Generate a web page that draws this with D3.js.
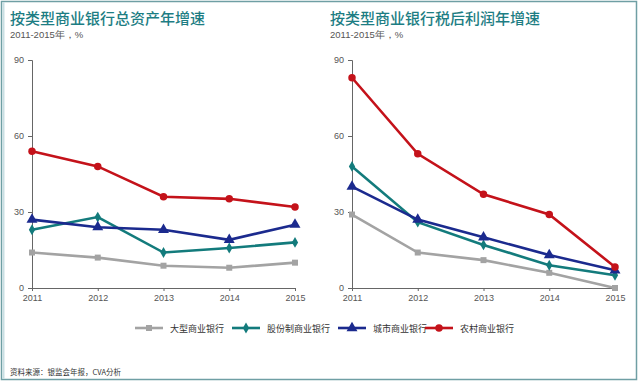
<!DOCTYPE html>
<html lang="zh">
<head>
<meta charset="UTF-8">
<title>按类型商业银行增速</title>
<script src="https://d3js.org/d3.v7.min.js"></script>
<style>
  body { margin: 0; background: #fff; }
  svg { display: block; }
</style>
</head>
<body>
<svg width="640" height="383"></svg>
<script>
var years = ["2011", "2012", "2013", "2014", "2015"];
var seriesNames = ["大型商业银行", "股份制商业银行", "城市商业银行", "农村商业银行"];
var yTicks = [0, 30, 60, 90];

// 总资产年增速
var assetLarge = [14, 12, 8.8, 8, 10];
var assetJoint = [23, 28, 14, 15.8, 18];
var assetCity = [27, 24, 23, 19, 25];
var assetRural = [54, 48, 36, 35.2, 32];

// 税后利润年增速
var profitLarge = [29, 14, 11, 6, 0];
var profitJoint = [48, 26, 17, 9, 5];
var profitCity = [40, 27, 20, 13, 7];
var profitRural = [83, 53, 37, 29, 8.3];

var colors = ["#a3a3a3", "#137b7c", "#1b2a8e", "#c4121a"];
var symbols = [d3.symbolSquare, d3.symbolDiamond, d3.symbolTriangle, d3.symbolCircle];
var symSizes = [36, 34, 52, 44];

var svg = d3.select("svg");
var font = "'Noto Sans CJK SC', 'Noto Sans', sans-serif";

// frame
svg.append("rect").attr("x", 1.5).attr("y", 1.5).attr("width", 635).attr("height", 378)
    .attr("fill", "none").attr("stroke", "#6f9fa4").attr("stroke-width", 1.5);
svg.append("line").attr("x1", 3.5).attr("x2", 3.5).attr("y1", 2).attr("y2", 379)
    .attr("stroke", "#c9dfe3").attr("stroke-width", 2);

function drawPanel(x0, title, data) {
    var g = svg.append("g");
    g.append("text").attr("x", x0 - 22).attr("y", 24)
        .attr("font-family", font).attr("font-size", 15).attr("font-weight", 500)
        .attr("fill", "#1d7d83").text(title);
    g.append("text").attr("x", x0 - 22).attr("y", 38)
        .attr("font-family", "'Liberation Sans', Arial, sans-serif").attr("font-size", 9.5)
        .attr("fill", "#555").text("2011-2015年，%");

    var x = d3.scalePoint().domain(years).range([x0, x0 + 263]);
    var y = d3.scaleLinear().domain([0, 90]).range([288, 60]);

    var yAxis = g.append("g").attr("transform", "translate(" + x0 + ",0)")
        .call(d3.axisLeft(y).tickValues(yTicks).tickSize(4).tickPadding(4));
    var xAxis = g.append("g").attr("transform", "translate(0,288)")
        .call(d3.axisBottom(x).tickSize(3).tickPadding(4));
    [yAxis, xAxis].forEach(function(a) {
        a.select(".domain").attr("stroke", "#666");
        a.selectAll(".tick line").attr("stroke", "#666");
        a.selectAll("text").attr("font-family", "'Liberation Sans', Arial, sans-serif")
            .attr("font-size", 9).attr("fill", "#555");
    });

    var line = d3.line().x(function(d, i) { return x(years[i]); }).y(function(d) { return y(d); });
    data.forEach(function(vals, k) {
        g.append("path").attr("d", line(vals)).attr("fill", "none")
            .attr("stroke", colors[k]).attr("stroke-width", 2.6);
        g.selectAll(null).data(vals).enter().append("path")
            .attr("transform", function(d, i) { return "translate(" + x(years[i]) + "," + y(d) + ")"; })
            .attr("d", d3.symbol().type(symbols[k]).size(symSizes[k]))
            .attr("fill", colors[k]);
    });
}

drawPanel(32, "按类型商业银行总资产年增速", [assetLarge, assetJoint, assetCity, assetRural]);
drawPanel(352, "按类型商业银行税后利润年增速", [profitLarge, profitJoint, profitCity, profitRural]);

// legend
var legendX = [135, 232, 338, 425];
var leg = svg.append("g");
seriesNames.forEach(function(name, k) {
    var lx = legendX[k];
    leg.append("line").attr("x1", lx).attr("x2", lx + 28).attr("y1", 328).attr("y2", 328)
        .attr("stroke", colors[k]).attr("stroke-width", 2.6);
    leg.append("path").attr("transform", "translate(" + (lx + 14) + ",328)")
        .attr("d", d3.symbol().type(symbols[k]).size(symSizes[k])).attr("fill", colors[k]);
    leg.append("text").attr("x", lx + 35).attr("y", 331.5)
        .attr("font-family", font).attr("font-size", 9).attr("fill", "#333").text(name);
});

svg.append("text").attr("x", 10).attr("y", 375)
    .attr("font-family", font).attr("font-size", 7.5).attr("fill", "#333")
    .text("资料来源：银监会年报，CVA分析");
</script>
</body>
</html>
